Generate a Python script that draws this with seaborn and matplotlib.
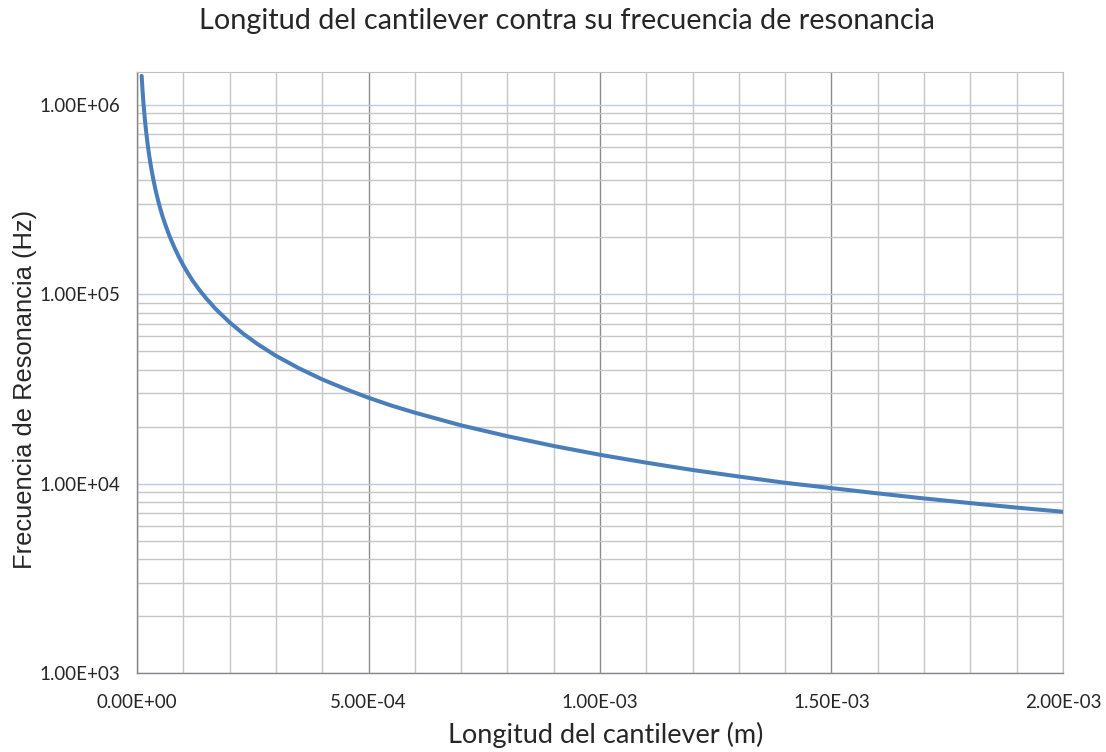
import matplotlib
matplotlib.use("Agg")
import matplotlib.pyplot as plt
import matplotlib.ticker as mticker
import seaborn as sns

# longitud del cantilever (m) y frecuencia de resonancia (Hz)
longitud = [1.0e-5, 1.1e-5, 1.2e-5, 1.3e-5, 1.4e-5, 1.5e-5, 1.7e-5, 2.0e-5,
            2.3e-5, 2.6e-5, 3.0e-5, 3.5e-5, 4.0e-5, 4.5e-5, 5.0e-5, 5.5e-5,
            6.0e-5, 7.0e-5, 8.0e-5, 9.0e-5, 1.0e-4, 1.1e-4, 1.2e-4, 1.35e-4,
            1.5e-4, 1.7e-4, 2.0e-4, 2.3e-4, 2.6e-4, 3.0e-4, 3.5e-4, 4.0e-4,
            4.5e-4, 5.0e-4, 5.5e-4, 6.0e-4, 7.0e-4, 8.0e-4, 9.0e-4, 1.0e-3,
            1.1e-3, 1.2e-3, 1.3e-3, 1.4e-3, 1.5e-3, 1.6e-3, 1.7e-3, 1.8e-3,
            1.9e-3, 2.0e-3]
frecuencia = [1.42e6, 1.29e6, 1.18e6, 1.09e6, 1.01e6, 9.47e5, 8.35e5, 7.10e5,
              6.17e5, 5.46e5, 4.73e5, 4.06e5, 3.55e5, 3.16e5, 2.84e5, 2.58e5,
              2.37e5, 2.03e5, 1.78e5, 1.58e5, 1.42e5, 1.29e5, 1.18e5, 1.05e5,
              9.47e4, 8.35e4, 7.10e4, 6.17e4, 5.46e4, 4.73e4, 4.06e4, 3.55e4,
              3.16e4, 2.84e4, 2.58e4, 2.37e4, 2.03e4, 1.78e4, 1.58e4, 1.42e4,
              1.29e4, 1.18e4, 1.09e4, 1.01e4, 9.47e3, 8.88e3, 8.35e3, 7.89e3,
              7.47e3, 7.10e3]

sns.set_style("white")
plt.rcParams["font.family"] = ["Lato", "DejaVu Sans"]

fig = plt.figure(figsize=(11.06, 7.52), dpi=100)
ax = fig.add_axes([0.1239, 0.105, 0.8372, 0.7993])

sns.lineplot(x=longitud, y=frecuencia, ax=ax, color="#4a7ebb", linewidth=2.9,
             sort=False, solid_capstyle="round")

ax.set_yscale("log")
ax.set_xlim(0, 2.0e-3)
ax.set_ylim(1e3, 1.49e6)

ax.xaxis.set_major_locator(mticker.MultipleLocator(5e-4))
ax.xaxis.set_minor_locator(mticker.MultipleLocator(1e-4))
ax.yaxis.set_major_locator(mticker.LogLocator(base=10, numticks=10))
ax.yaxis.set_minor_locator(mticker.LogLocator(base=10, subs=range(2, 10), numticks=10))
ax.yaxis.set_minor_formatter(mticker.NullFormatter())
fmt = mticker.FuncFormatter(lambda v, p: f"{v:.2E}")
ax.xaxis.set_major_formatter(fmt)
ax.yaxis.set_major_formatter(fmt)

ax.grid(True, axis="x", which="major", color="#8c8c8c", linewidth=1.0)
ax.grid(True, axis="x", which="minor", color="#c6c6c6", linewidth=1.0)
ax.grid(True, axis="y", which="major", color="#b8cbe8", linewidth=1.0)
ax.grid(True, axis="y", which="minor", color="#c6c6c6", linewidth=1.0)
ax.set_axisbelow(True)

for side in ["top", "right"]:
    ax.spines[side].set_color("#c0c0c0")
for side in ["left", "bottom"]:
    ax.spines[side].set_color("#868686")
    ax.spines[side].set_linewidth(1.0)

ax.tick_params(axis="both", which="major", length=4, width=1.0, color="#868686",
               labelsize=13.5, labelcolor="#262626", direction="out")
ax.tick_params(axis="y", which="major", pad=8)
ax.tick_params(axis="x", which="major", pad=11)
ax.tick_params(axis="both", which="minor", length=0)

ax.set_xlabel("Longitud del cantilever (m)", fontsize=19.5)
ax.set_ylabel("Frecuencia de Resonancia (Hz)", fontsize=18.4,
              family=["Liberation Sans", "DejaVu Sans"])
ax.xaxis.set_label_coords(0.506, -0.082)
ax.yaxis.set_label_coords(-0.108, 0.471)
fig.suptitle("Longitud del cantilever contra su frecuencia de resonancia",
             fontsize=20.8, x=0.513, y=0.99)

fig.savefig("out.png", dpi=100)
